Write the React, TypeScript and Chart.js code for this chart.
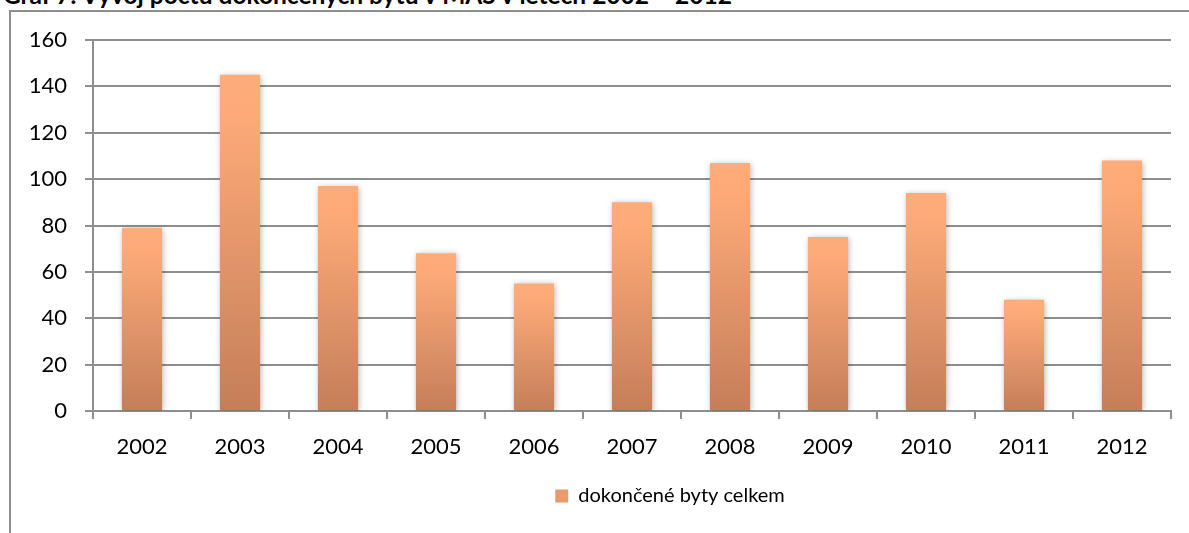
import { useEffect, useRef } from 'react';
import { Chart, registerables } from 'chart.js';

Chart.register(...registerables);

const TITLE = 'Graf 7: Vývoj počtu dokončených bytů v MAS v letech 2002 – 2012';
const SERIES_LABEL = 'dokončené byty celkem';
const YEARS = ['2002', '2003', '2004', '2005', '2006', '2007', '2008', '2009', '2010', '2011', '2012'];
const COMPLETED = [79, 145, 97, 68, 55, 90, 107, 75, 94, 48, 108];
const Y_MIN = 0;
const Y_MAX = 160;
const Y_STEP = 20;

const FONT = 'Lato, "Noto Sans", sans-serif';
const GRID = '#8e8e8e';
const TOP_COLOR = '#FFAC7B';
const BOTTOM_COLOR = '#C57E59';
const CANVAS_W = 1340;
const CANVAS_H = 533;

const shadowPlugin = {
  id: 'barShadow',
  beforeDatasetsDraw(chart: any) {
    const c = chart.ctx;
    c.save();
    c.shadowColor = 'rgba(0,0,0,0.28)';
    c.shadowBlur = 6;
    c.shadowOffsetX = 1;
    c.shadowOffsetY = 1;
  },
  afterDatasetsDraw(chart: any) {
    chart.ctx.restore();
  },
};

export default function App() {
  const ref = useRef<HTMLCanvasElement | null>(null);

  useEffect(() => {
    if (!ref.current) return;
    const chart = new Chart(ref.current, {
      type: 'bar',
      data: {
        labels: YEARS,
        datasets: [
          {
            label: SERIES_LABEL,
            data: COMPLETED,
            borderWidth: 0,
            barPercentage: 0.41,
            categoryPercentage: 1,
            backgroundColor: (ctx: any) => {
              const ch = ctx.chart;
              if (!ch.chartArea || ctx.type !== 'data') return '#EFA072';
              const ys = ch.scales.y;
              const top = ys.getPixelForValue(ctx.raw);
              const bottom = ys.getPixelForValue(0);
              if (!isFinite(top) || !isFinite(bottom) || top === bottom) return '#EFA072';
              const g = ch.ctx.createLinearGradient(0, top, 0, bottom);
              g.addColorStop(0, TOP_COLOR);
              g.addColorStop(0.12, '#FDAA78');
              g.addColorStop(1, BOTTOM_COLOR);
              return g;
            },
          },
        ],
      },
      options: {
        animation: false,
        responsive: false,
        maintainAspectRatio: false,
        layout: { padding: { left: 0, right: 0, top: 40, bottom: 17 } },
        plugins: {
          title: { display: false },
          tooltip: { enabled: false },
          legend: {
            display: true,
            position: 'bottom',
            labels: {
              boxWidth: 13,
              boxHeight: 13,
              padding: 10,
              color: '#000',
              font: { family: FONT, size: 20 },
              generateLabels: () => [
                {
                  text: SERIES_LABEL,
                  fillStyle: '#E99A6C',
                  strokeStyle: '#E99A6C',
                  lineWidth: 0,
                  hidden: false,
                  datasetIndex: 0,
                  fontColor: '#000',
                },
              ],
            },
          },
        },
        scales: {
          x: {
            offset: true,
            grid: {
              display: true,
              offset: true,
              drawOnChartArea: false,
              drawTicks: true,
              tickLength: 8,
              color: GRID,
              lineWidth: 2,
            },
            border: { display: true, color: GRID, width: 2 },
            ticks: {
              color: '#000',
              font: { family: FONT, size: 22 },
              padding: 15,
              maxRotation: 0,
            },
            afterFit: (s: any) => {
              s.height = 65;
            },
          },
          y: {
            min: Y_MIN,
            max: Y_MAX,
            grid: {
              display: true,
              drawTicks: true,
              tickLength: 8,
              color: GRID,
              lineWidth: 2,
            },
            border: { display: true, color: GRID, width: 2 },
            ticks: {
              stepSize: Y_STEP,
              color: '#000',
              font: { family: FONT, size: 22 },
              padding: 18,
            },
            afterFit: (s: any) => {
              s.width = 93;
            },
          },
          gap: {
            type: 'linear',
            position: 'right',
            display: true,
            grid: { display: false, drawTicks: false },
            border: { display: false },
            ticks: { display: false },
            afterFit: (s: any) => {
              s.width = CANVAS_W - 1171;
            },
          },
        },
      } as any,
      plugins: [shadowPlugin],
    });
    return () => chart.destroy();
  }, []);

  return (
    <div
      style={{
        position: 'fixed',
        left: 0,
        top: 0,
        width: 1189,
        height: 533,
        overflow: 'hidden',
        background: '#fff',
      }}
    >
      <div
        style={{
          position: 'absolute',
          left: 3,
          top: -17,
          fontFamily: FONT,
          fontWeight: 700,
          fontSize: 24.5,
          lineHeight: '24px',
          whiteSpace: 'nowrap',
          color: '#000',
        }}
      >
        {TITLE}
      </div>
      <div
        style={{
          position: 'absolute',
          left: 9,
          top: 10,
          width: 1400,
          height: 700,
          border: '2px solid #8e8e8e',
          boxSizing: 'border-box',
        }}
      />
      <canvas
        ref={ref}
        width={CANVAS_W}
        height={CANVAS_H}
        style={{ position: 'absolute', left: 0, top: 0, width: CANVAS_W, height: CANVAS_H }}
      />
    </div>
  );
}
